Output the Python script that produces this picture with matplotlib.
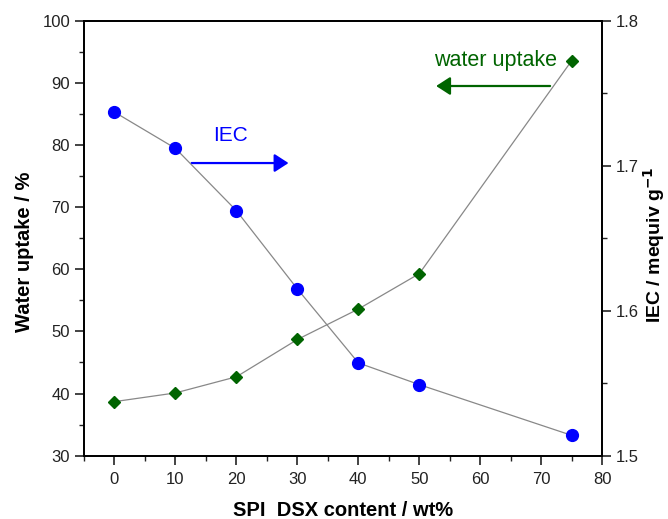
import matplotlib.pyplot as plt
from matplotlib.ticker import MultipleLocator

plt.rcParams['font.family'] = ['Liberation Sans', 'DejaVu Sans']

dsx = [0, 10, 20, 30, 40, 50, 75]
water_uptake = [38.7, 40.1, 42.7, 48.7, 53.6, 59.3, 93.6]
iec = [1.737, 1.712, 1.669, 1.615, 1.564, 1.549, 1.514]

fig = plt.figure(figsize=(6.68, 5.19), dpi=100)
ax = fig.add_axes([0.1257, 0.122, 0.7759, 0.838])
ax2 = ax.twinx()

ax.plot(dsx, water_uptake, color='#888888', lw=0.9, marker='D', ms=6.5,
        mfc='#006400', mec='#006400', zorder=3)
ax2.plot(dsx, iec, color='#888888', lw=0.9, marker='o', ms=8.5,
         mfc='#0000ff', mec='#0000ff', zorder=3)

ax.set_xlim(-5, 80)
ax.set_ylim(30, 100)
ax2.set_ylim(1.5, 1.8)

ax.xaxis.set_major_locator(MultipleLocator(10))
ax.xaxis.set_minor_locator(MultipleLocator(5))
ax.yaxis.set_major_locator(MultipleLocator(10))
ax.yaxis.set_minor_locator(MultipleLocator(5))
ax2.yaxis.set_major_locator(MultipleLocator(0.1))
ax2.yaxis.set_minor_locator(MultipleLocator(0.05))

for a in (ax, ax2):
    for s in a.spines.values():
        s.set_linewidth(1.3)
    a.tick_params(which='major', direction='out', length=6.5, width=1.2,
                  labelsize=12, colors='#222222')
    a.tick_params(which='minor', direction='out', length=3.6, width=1.0,
                  colors='#222222')
ax.tick_params(axis='x', which='both', top=False)
ax.tick_params(axis='x', which='major', pad=5.5)

ax.set_xlabel('SPI  DSX content / wt%', fontsize=14.5, fontweight='bold')
ax.xaxis.label.set_verticalalignment('center')
ax.xaxis.set_label_coords(0.5, -0.125)
ax.set_ylabel('Water uptake / %', fontsize=14.5, fontweight='bold')
ax.yaxis.label.set_verticalalignment('center')
ax.yaxis.set_label_coords(-0.115, 0.468)
ax2.set_ylabel('IEC / mequiv g$^{\\mathbf{-1}}$', fontsize=14, fontweight='bold')
ax2.yaxis.label.set_verticalalignment('center')
ax2.yaxis.set_label_coords(1.100, 0.484)

# annotations
arrow_style = '-|>,head_length=0.85,head_width=0.55'
ax.text(19.1, 81.5, 'IEC', color='#0000ff', fontsize=15, ha='center', va='center')
ax.annotate('', xy=(29.0, 77.1), xytext=(12.2, 77.1),
            arrowprops=dict(arrowstyle=arrow_style, color='#0000ff', lw=1.6))
ax.text(62.5, 93.6, 'water uptake', color='#006400', fontsize=15.5, ha='center', va='center')
ax.annotate('', xy=(52.3, 89.5), xytext=(71.9, 89.5),
            arrowprops=dict(arrowstyle=arrow_style, color='#006400', lw=1.6))

fig.savefig('out.png', dpi=100)
